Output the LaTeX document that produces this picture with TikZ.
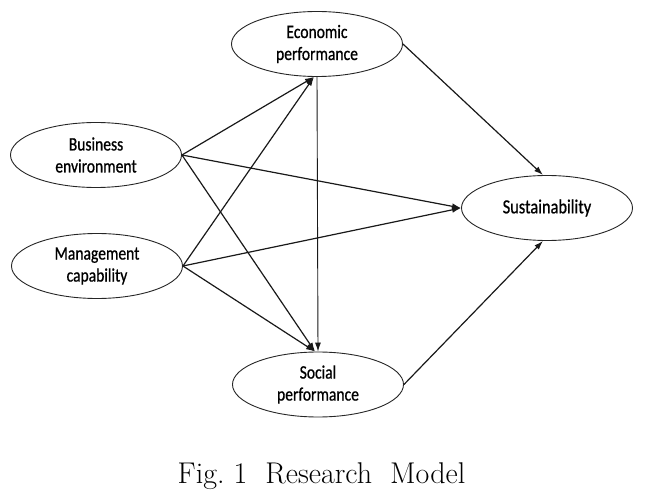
\documentclass[tikz,border=0pt]{standalone}
\usepackage{fontspec}
\usetikzlibrary{shapes.geometric,arrows.meta}
\newfontfamily\nodefont[FakeStretch=0.82,FakeBold=0.8]{Carlito}
\begin{document}
\begin{tikzpicture}[x=1pt,y=-1pt,
  var/.style={ellipse,draw=black!85,line width=0.9pt,minimum width=171pt,minimum height=65pt,
    inner sep=0pt,align=center,font=\nodefont\fontsize{19}{22}\selectfont},
  path/.style={draw=black!90,line width=1.2pt,-{Latex[length=9pt,width=6pt]}}]
\useasboundingbox (0,0) rectangle (651,494);
\node[var] (econ) at (317,44) {Economic\\performance};
\node[var] (bus) at (96,155) {Business\\environment};
\node[var] (mgmt) at (97,266) {Management\\capability};
\node[var,font=\nodefont\fontsize{20}{22}\selectfont] (sust) at (547,208) {Sustainability};
\node[var] (soc) at (318,384.5) {Social\\performance};
\coordinate (econin) at ([xshift=-3pt]econ.south);
\coordinate (socin) at ([xshift=-3pt]soc.north);
\draw[path] (bus.east) -- (econin);
\draw[path] (mgmt.east) -- (econin);
\draw[path] (bus.east) -- (socin);
\draw[path] (mgmt.east) -- (socin);
\draw[path] (bus.east) -- (sust.west);
\draw[path] (mgmt.east) -- (sust.west);
\draw[path,line width=0.9pt] (econ.south) -- (soc.north);
\draw[path] (econ.east) -- ([xshift=-4pt]sust.north);
\draw[path] (soc.east) -- ([xshift=-4pt]sust.south);
\node[anchor=base,font=\fontsize{30}{35}\selectfont] (cap) at (321.5,483) {Fig.\ 1\ \ Research\ \ Model};
\end{tikzpicture}
\end{document}
